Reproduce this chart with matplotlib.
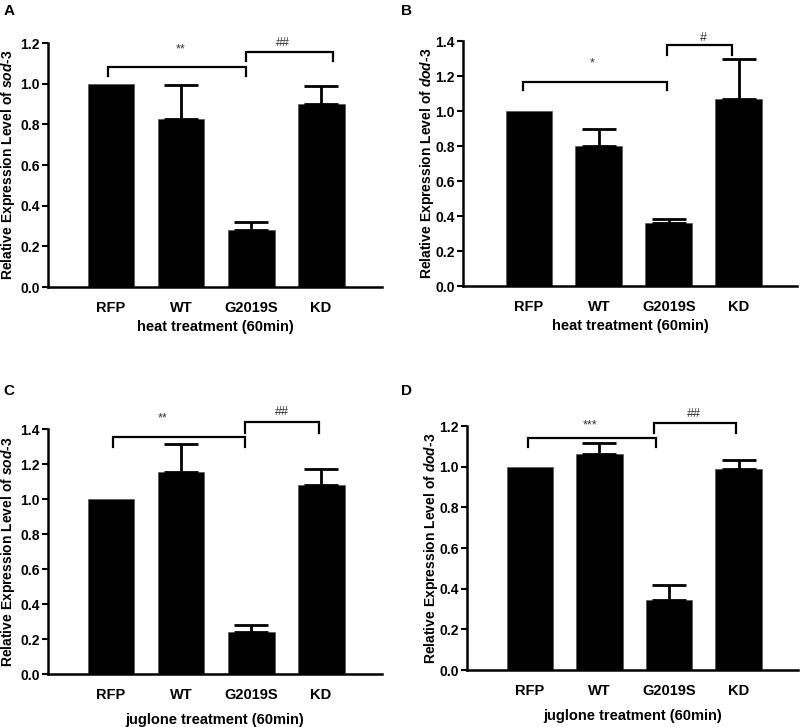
import numpy as np
import matplotlib
matplotlib.use("Agg")
import matplotlib.pyplot as plt

plt.rcParams["font.family"] = ["Liberation Sans", "DejaVu Sans"]
plt.rcParams["font.weight"] = "bold"
plt.rcParams["mathtext.fontset"] = "custom"
plt.rcParams["mathtext.it"] = "Liberation Sans:bold:italic"
plt.rcParams["mathtext.rm"] = "Liberation Sans:bold"

groups = ["RFP", "WT", "G2019S", "KD"]

# mean expression and upper error bar (SEM) per panel
heat_sod3 = [1.0, 0.825, 0.28, 0.90]
heat_sod3_err = [0.0, 0.17, 0.04, 0.09]
heat_dod3 = [1.0, 0.80, 0.36, 1.07]
heat_dod3_err = [0.0, 0.10, 0.025, 0.23]
jug_sod3 = [1.0, 1.155, 0.24, 1.08]
jug_sod3_err = [0.0, 0.16, 0.04, 0.09]
jug_dod3 = [1.0, 1.06, 0.345, 0.99]
jug_dod3_err = [0.0, 0.055, 0.075, 0.045]

panels = [
    dict(letter="A", mean=heat_sod3, err=heat_sod3_err, gene="sod", ymax=1.2,
         xlabel="heat treatment (60min)", xlpad=4, ylx=-0.093,
         pos=[0.06, 0.6052, 0.4175, 0.3356], xlim=(-0.9, 3.87),
         brackets=[(-0.04, 1.93, 1.082, 1.04, "**", 0.99, 1.17),
                   (1.93, 3.17, 1.155, 1.11, "##", 2.46, 1.20)]),
    dict(letter="B", mean=heat_dod3, err=heat_dod3_err, gene="dod", ymax=1.4,
         xlabel="heat treatment (60min)", xlpad=4, ylx=-0.083,
         pos=[0.579, 0.6066, 0.417, 0.337], xlim=(-0.94, 3.83),
         brackets=[(-0.09, 1.97, 1.166, 1.12, "*", 0.91, 1.27),
                   (1.97, 2.91, 1.377, 1.32, "#", 2.49, 1.42)]),
    dict(letter="C", mean=jug_sod3, err=jug_sod3_err, gene="sod", ymax=1.4,
         xlabel="juglone treatment (60min)", xlpad=8, ylx=-0.093,
         pos=[0.06, 0.0729, 0.4175, 0.337], xlim=(-0.9, 3.87),
         brackets=[(0.03, 1.91, 1.354, 1.30, "**", 0.74, 1.46),
                   (1.91, 2.97, 1.44, 1.38, "##", 2.44, 1.50)]),
    dict(letter="D", mean=jug_dod3, err=jug_dod3_err, gene="dod", ymax=1.2,
         xlabel="juglone treatment (60min)", xlpad=8, ylx=-0.083,
         pos=[0.584, 0.0784, 0.414, 0.3356], xlim=(-0.9, 3.86),
         brackets=[(-0.03, 1.81, 1.141, 1.097, "***", 0.86, 1.205),
                   (1.79, 2.97, 1.215, 1.166, "##", 2.36, 1.26)]),
]

fig = plt.figure(figsize=(8, 7.27), dpi=100)
x = np.arange(len(groups))

for p in panels:
    ax = fig.add_axes(p["pos"])
    mean = np.array(p["mean"])
    err = np.array(p["err"])
    ax.bar(x, mean, width=0.67, color="black", edgecolor="#555555", linewidth=0.5)
    has = err > 0
    ax.errorbar(x[has], mean[has], yerr=[np.zeros(has.sum()), err[has]], fmt="none",
                ecolor="black", elinewidth=2, capsize=12, capthick=2)
    ax.set_xlim(*p["xlim"])
    ax.set_ylim(0, p["ymax"])
    yt = np.arange(0, p["ymax"] + 0.01, 0.2)
    ax.set_yticks(yt)
    ax.set_yticklabels([f"{v:.1f}" for v in yt])
    ax.set_xticks(x)
    ax.set_xticklabels(groups)
    ax.tick_params(axis="x", length=0, pad=10, labelsize=10.5)
    ax.tick_params(axis="y", length=4, width=1.5, pad=2, labelsize=10)
    for s in ["top", "right"]:
        ax.spines[s].set_visible(False)
    for s in ["left", "bottom"]:
        ax.spines[s].set_linewidth(1.8)
    ax.set_xlabel(p["xlabel"], fontsize=10.5, fontweight="bold", labelpad=p["xlpad"])
    ax.set_ylabel("Relative Expression Level of $\\mathit{" + p["gene"] + "}$-$\\mathit{3}$",
                  fontsize=10, fontweight="bold")
    ax.yaxis.set_label_coords(p["ylx"], 0.5)

    for x0, x1, ytop, ybot, label, tx, ty in p["brackets"]:
        ax.plot([x0, x0, x1, x1], [ybot, ytop, ytop, ybot], color="black",
                lw=1.6, clip_on=False, solid_joinstyle="miter")
        ax.text(tx, ty, label, ha="center", va="center", fontsize=9,
                fontweight="normal", color="#333333", clip_on=False)

    lx = 0.011 if p["letter"] in "AC" else 0.508
    ly = 0.995 if p["letter"] in "AB" else 0.472
    fig.text(lx, ly, p["letter"], fontsize=11, fontweight="bold", va="top", ha="center")

fig.savefig("out.png", dpi=100)
